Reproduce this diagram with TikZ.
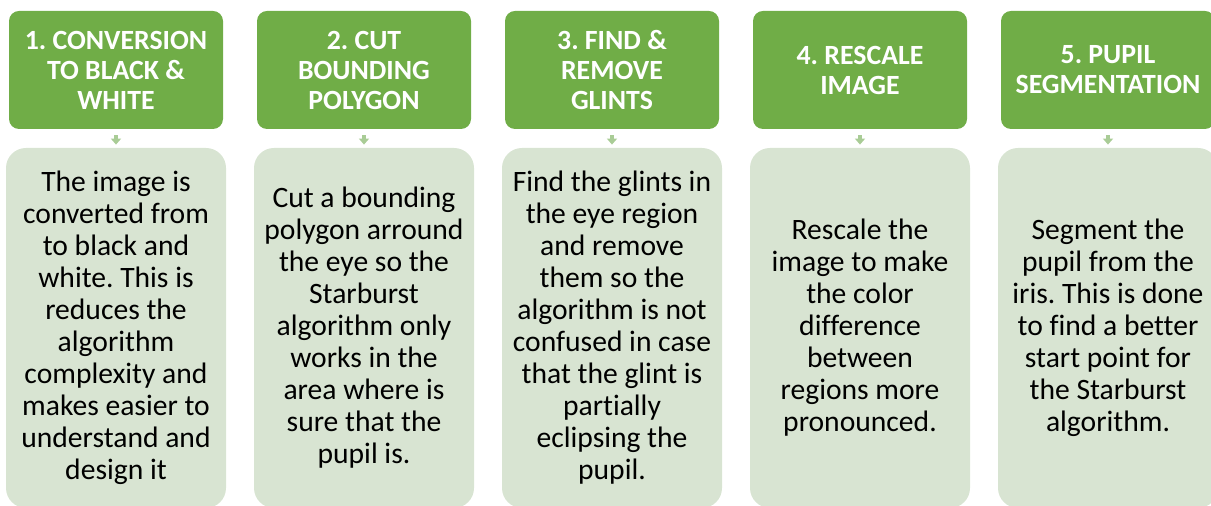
\documentclass[tikz,border=0pt]{standalone}
\usepackage{fontspec}
\setmainfont[Ligatures=NoCommon]{Carlito}
\usetikzlibrary{arrows.meta}
\definecolor{stepgreen}{HTML}{70AD47}
\definecolor{steplight}{RGB}{216,228,210}
\definecolor{steparrow}{RGB}{169,204,150}
\frenchspacing
\tikzset{
  >={Triangle[width=5pt,length=3pt]},
  % Step titles and descriptions
  head/.style={rounded corners=5pt,fill=stepgreen,text=white,align=center,
    font=\bfseries\fontsize{13.9}{15}\selectfont,
    minimum width=107pt,minimum height=59pt,inner sep=0pt},
  body/.style={rounded corners=10pt,fill=steplight,align=center,
    font=\fontsize{14.8}{16}\selectfont,
    minimum width=110pt,minimum height=180pt,inner sep=0pt},
  % Small arrow between title and description
  link/.style={->,steparrow,line width=2.4pt,shorten <=3pt,shorten >=1.5pt}
}

\begin{document}
\begin{tikzpicture}[x=0.5pt,y=-0.5pt]
        \useasboundingbox (0,0) rectangle (1211,506);
        % Step 1
        \node[head] (head1) at (116,70) {1. CONVERSION\\TO BLACK \&\\WHITE};
        \node[body] (body1) at (116,328) {The image is\\converted from\\to black and\\white. This is\\reduces the\\algorithm\\complexity and\\makes easier to\\understand and\\design it};
        % Step 2
        \node[head] (head2) at (364,70) {2. CUT\\BOUNDING\\POLYGON};
        \node[body] (body2) at (364,328) {Cut a bounding\\polygon arround\\the eye so the\\Starburst\\algorithm only\\works in the\\area where is\\sure that the\\pupil is.};
        % Step 3
        \node[head] (head3) at (612,70) {3. FIND \&\\REMOVE\\GLINTS};
        \node[body] (body3) at (612,328) {Find the glints in\\the eye region\\and remove\\them so the\\algorithm is not\\confused in case\\that the glint is\\partially\\eclipsing the\\pupil.};
        % Step 4
        \node[head] (head4) at (860,70) {4. RESCALE\\IMAGE};
        \node[body] (body4) at (860,328) {Rescale the\\image to make\\the color\\difference\\between\\regions more\\pronounced.};
        % Step 5
        \node[head] (head5) at (1108,70) {5. PUPIL\\SEGMENTATION};
        \node[body] (body5) at (1108,328) {Segment the\\pupil from the\\iris. This is done\\to find a better\\start point for\\the Starburst\\algorithm.};
        % Arrows
        \draw[link] (head1) -- (body1);
        \draw[link] (head2) -- (body2);
        \draw[link] (head3) -- (body3);
        \draw[link] (head4) -- (body4);
        \draw[link] (head5) -- (body5);
      \end{tikzpicture}
\end{document}
